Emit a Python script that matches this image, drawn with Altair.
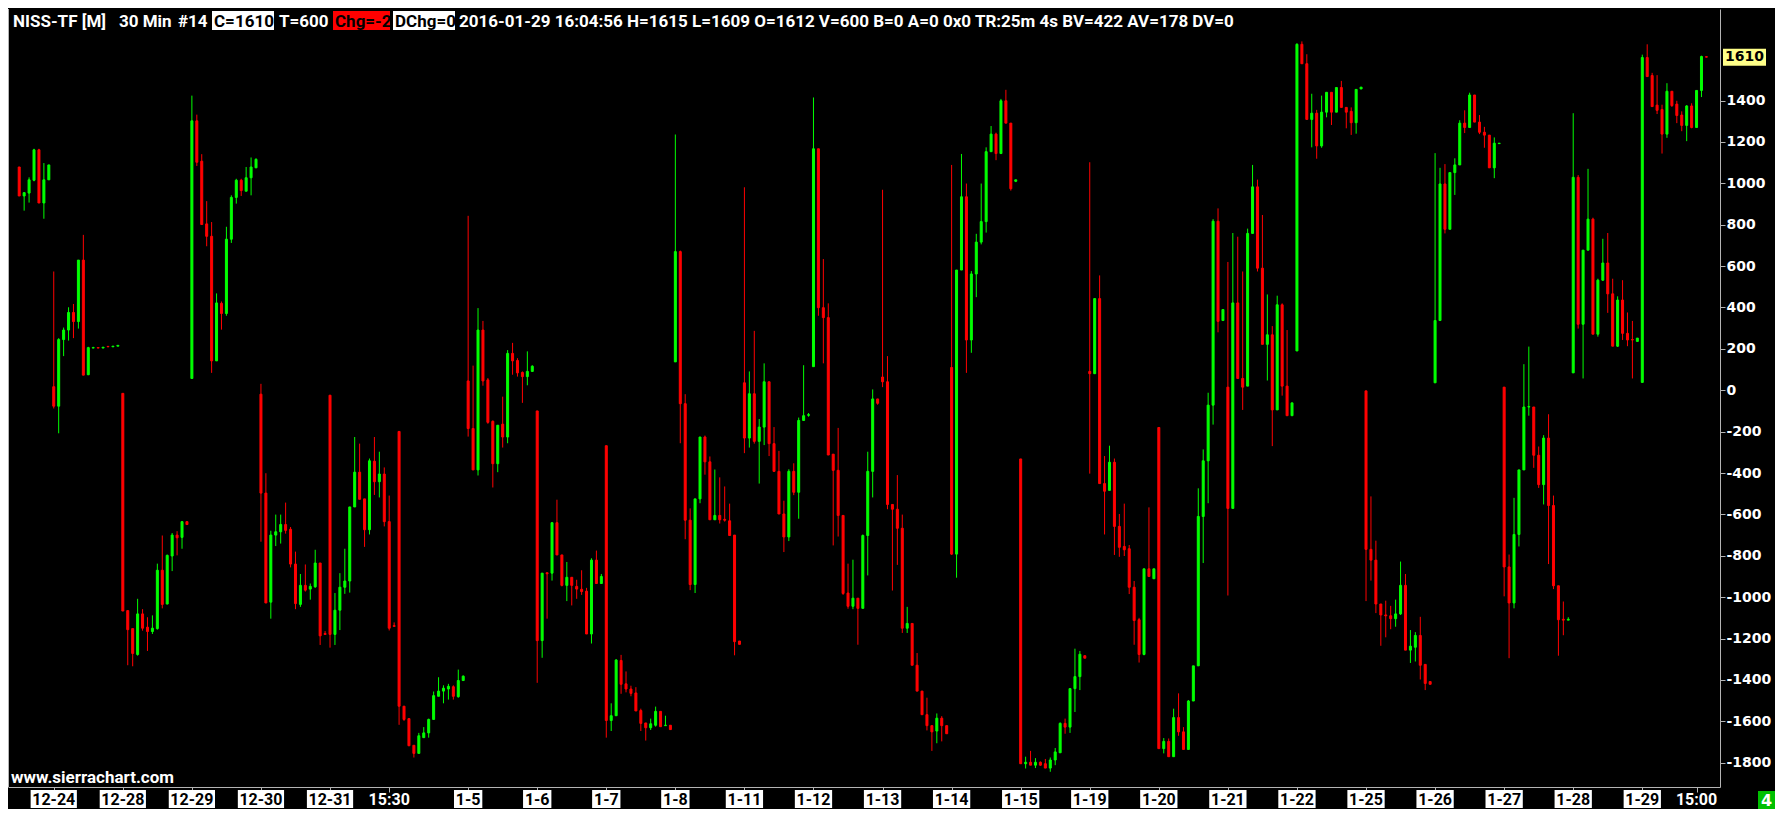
import altair as alt
import pandas as pd

# ---------------- data (30 min bars) ----------------
opens = [1079, 939, 953, 1015, 1162, 905, 1017, 17, -77, 245, 291, 376, 332, 629, 75, 204, 206, 204, 212, 210, 213,
         -15, -1065, -1152, -1277, -1081, -1145, -1166, -1152, -870, -1033, -801, -700, -711, -635,
         57, 1302, 1107, 804, 744, 142, 420, 371, 730, 932, 1015, 962, 1027, 1075,
         -19, -497, -1024, -700, -684, -649, -672, -840, -1035, -943, -961, -950, -835, -1176,
         -24, -1180, -1063, -952, -922, -564, -396, -525, -674, -343, -442, -405, -635, -1138,
         -199, -1527, -1587, -1716, -1755, -1679, -1656, -1591, -1479, -1454, -1444, -1433, -1481, -1403,
         45, -185, -385, 291, 50, -150, -355, -164, -226, 178, 144, 86, 66, 91,
         -100, -1210, -882, -884, -640, -796, -943, -904, -948, -962, -971, -1178, -821, -934,
         -268, -1596, -1573, -1306, -1419, -1444, -1463, -1548, -1608, -1631, -1619, -1552, -1621, -1619,
         137, 670, -65, -628, -939, -525, -226, -346, -626, -605, -624, -631, -700, -1212,
         36, -231, -17, -247, -178, 41, -258, -392, -598, -709, -392, -493, -146, -121,
         114, 1167, 399, 351, -309, -387, -605, -980, -1044, -1005, -1054, -702, -392, -42,
         64, 41, -552, -575, -667, -1150, -1127, -1329, -1454, -1568, -1621, -1647, -1585, -1621,
         110, -792, 581, 935, 243, 562, 716, 815, 1153, 1238, 1144, 1399, 1291, 1010,
         -332, -1805, -1798, -1812, -1798, -1805, -1826, -1787, -1752, -1610, -1628, -1442, -1384, -1283,
         91, 80, 443, -451, -484, -348, -658, -755, -766, -952, -1109, -1277, -863, -911,
         -180, -1732, -1697, -1771, -1582, -1651, -1736, -1502, -1332, -610, -341, -72, 817, 337,
         15, -571, 422, 57, 20, 758, 983, 590, 222, 268, -95, 413, 20, -123,
         190, 1672, 1578, 1309, 1339, 1181, 1344, 1440, 1344, 1463, 1367, 1348, 1293, 1456,
         -3, -769, -821, -1033, -1086, -1090, -1104, -1081, -943, -1256, -1242, -1185, -1325, -1408,
         36, 337, 997, 778, 1052, 1089, 1291, 1270, 1427, 1296, 1247, 1233, 1075, 1192,
         15, -854, -1028, -697, -385, -81, -81, -314, -456, -231, -557, -945, -1107, -1111,
         84, 1029, 319, 677, 827, 271, 532, 615, 466, 213, 436, 275, 245, 236,
         38, 1608, 1521, 1378, 1357, 1238, 1445, 1383, 1330, 1280, 1374, 1270, 1449, 1612]
highs = [1079, 955, 1029, 1167, 1167, 1098, 1089, 574, 252, 303, 401, 417, 629, 751, 210, 210, 206, 208, 212, 213, 217,
         -15, -1065, -1152, -1008, -1058, -1097, -1088, -838, -702, -794, -690, -681, -633, -635,
         1424, 1332, 1141, 914, 813, 468, 429, 790, 942, 1022, 1022, 1079, 1125, 1121,
         31, -401, -679, -601, -601, -543, -661, -780, -888, -842, -934, -771, -835, -1164,
         -24, -980, -884, -766, -564, -226, -258, -525, -330, -226, -297, -373, -509, -1122,
         -199, -1527, -1587, -1716, -1656, -1628, -1587, -1456, -1387, -1426, -1419, -1426, -1350, -1378,
         843, 119, 397, 335, 59, -146, -169, -31, 194, 229, 155, 91, 188, 121,
         -100, -884, -882, -640, -529, -796, -830, -904, -916, -870, -955, -812, -775, -888,
         -268, -1513, -1299, -1279, -1359, -1428, -1435, -1539, -1608, -1587, -1529, -1552, -1573, -1619,
         1236, 675, -19, -571, -525, -226, -219, -320, -383, -421, -465, -548, -700, -1212,
         981, 91, 287, -139, 130, 41, -178, -293, -534, -382, -353, -132, 121, -110,
         1415, 1167, 634, 420, -309, -182, -605, -838, -819, -1005, -697, -297, 4, -42,
         969, 165, -552, -410, -601, -1047, -1127, -1270, -1454, -1486, -1621, -1562, -1575, -1621,
         1089, 581, 1142, 999, 576, 756, 999, 1174, 1277, 1245, 1408, 1452, 1291, 1017,
         -332, -1771, -1743, -1778, -1794, -1782, -1775, -1729, -1605, -1587, -1442, -1249, -1260, -1283,
         1102, 443, 555, -318, -268, -330, -598, -548, -748, -922, -1100, -863, -566, -863,
         -180, -1681, -1683, -1539, -1465, -1628, -1497, -1332, -474, -286, -12, 827, 879, 390,
         620, 760, 742, 574, 781, 1089, 1018, 847, 463, 310, 457, 420, 291, -61,
         1677, 1686, 1624, 1433, 1355, 1424, 1440, 1440, 1463, 1495, 1367, 1367, 1454, 1465,
         -3, -513, -727, -1033, -1017, -1042, -1012, -828, -888, -1159, -1169, -1095, -1325, -1408,
         1146, 1075, 1093, 1052, 1121, 1305, 1353, 1438, 1427, 1330, 1273, 1233, 1222, 1194,
         15, -794, -520, -385, 126, 211, -81, -272, -217, -116, -509, -945, -1021, -1097,
         1339, 1040, 677, 1070, 834, 539, 732, 760, 539, 454, 532, 376, 335, 252,
         1622, 1672, 1534, 1523, 1380, 1484, 1445, 1399, 1348, 1378, 1387, 1449, 1617, 1615]
lows = [939, 868, 907, 1010, 905, 829, 1017, -88, -208, 165, 240, 252, 298, 73, 73, 204, 204, 204, 210, 210, 213,
        -1067, -1329, -1334, -1283, -1162, -1260, -1178, -1157, -1054, -1035, -874, -798, -766, -649,
        57, 1084, 801, 696, 84, 142, 293, 360, 712, 902, 939, 962, 942, 1075,
        -732, -1028, -1104, -753, -741, -693, -856, -1058, -1047, -973, -1012, -955, -1231, -1180,
        -1244, -1231, -1159, -984, -978, -564, -527, -757, -697, -506, -518, -658, -1161, -1141,
        -1617, -1598, -1720, -1775, -1755, -1679, -1679, -1591, -1479, -1513, -1495, -1495, -1486, -1403,
        -224, -385, -412, 22, -162, -470, -396, -277, -256, 75, 66, -61, 24, 91,
        -1414, -1293, -1104, -920, -796, -948, -1019, -1040, -1008, -989, -1178, -1224, -934, -934,
        -1679, -1647, -1573, -1467, -1460, -1479, -1550, -1647, -1693, -1642, -1626, -1626, -1621, -1640,
        137, -256, -720, -966, -980, -546, -408, -626, -626, -644, -635, -702, -1281, -1228,
        -304, -277, -258, -451, -265, -318, -392, -598, -782, -729, -507, -621, -146, -128,
        114, 360, 130, -313, -750, -707, -989, -1056, -1058, -1230, -1054, -895, -518, -70,
        15, -575, -968, -844, -1173, -1173, -1329, -1454, -1568, -1644, -1743, -1706, -1697, -1660,
        -796, -906, 581, 84, 181, 450, 705, 762, 1153, 1112, 1144, 1291, 965, 1006,
        -1805, -1828, -1812, -1826, -1815, -1826, -1844, -1812, -1752, -1660, -1656, -1555, -1449, -1295,
        -403, 80, -451, -697, -484, -796, -805, -801, -985, -1230, -1316, -1281, -900, -911,
        -1732, -1755, -1771, -1771, -1670, -1736, -1736, -1502, -1332, -835, -546, -166, 280, 337,
        -992, -571, 57, -95, 20, 758, 574, 222, 47, -270, -95, -26, -123, -123,
        190, 1578, 1309, 1174, 1119, 1172, 1319, 1282, 1344, 1367, 1266, 1234, 1240, 1456,
        -1019, -920, -1077, -1235, -1194, -1155, -1143, -1086, -1256, -1318, -1311, -1398, -1449, -1421,
        36, 337, 758, 778, 944, 1089, 1243, 1270, 1296, 1238, 1172, 1075, 1025, 1192,
        -996, -1295, -1054, -755, -385, -123, -375, -472, -552, -840, -961, -1283, -1184, -1111,
        84, 298, 57, 677, 271, 259, 528, 374, 213, 209, 243, 213, 57, 236,
        38, 1516, 1371, 1335, 1144, 1220, 1369, 1291, 1252, 1204, 1266, 1270, 1417, 1609]
closes = [939, 955, 1017, 1162, 905, 1017, 1089, -77, 245, 291, 376, 332, 629, 73, 206, 206, 204, 208, 210, 213, 217,
          -1067, -1157, -1272, -1081, -1150, -1166, -1150, -870, -1035, -798, -700, -713, -635, -649,
          1302, 1102, 801, 744, 142, 422, 371, 730, 932, 1015, 965, 1027, 1079, 1116,
          -497, -1028, -700, -684, -649, -677, -840, -1031, -943, -966, -948, -835, -1187, -1180,
          -1180, -1063, -952, -922, -564, -396, -527, -674, -341, -442, -405, -635, -1150, -1141,
          -1527, -1591, -1718, -1755, -1670, -1656, -1591, -1476, -1454, -1440, -1431, -1479, -1403, -1382,
          -185, -385, 291, 45, -155, -355, -169, -226, 178, 142, 84, 66, 91, 116,
          -1210, -884, -887, -640, -796, -943, -904, -943, -961, -973, -1178, -821, -934, -900,
          -1596, -1573, -1304, -1421, -1444, -1465, -1550, -1610, -1631, -1612, -1552, -1626, -1619, -1640,
          670, -65, -628, -939, -525, -226, -346, -626, -605, -626, -628, -702, -1215, -1228,
          -231, -17, -247, -178, 41, -258, -392, -598, -709, -392, -493, -146, -123, -118,
          1167, 399, 351, -313, -387, -605, -982, -1044, -1005, -1054, -702, -392, -42, -63,
          41, -552, -575, -667, -1150, -1127, -1329, -1454, -1568, -1621, -1651, -1585, -1621, -1660,
          -792, 581, 935, 243, 562, 716, 815, 1153, 1238, 1144, 1399, 1291, 974, 1017,
          -1805, -1798, -1812, -1798, -1812, -1826, -1787, -1748, -1610, -1628, -1442, -1384, -1276, -1295,
          80, 443, -451, -488, -348, -658, -759, -771, -952, -1113, -1277, -863, -900, -863,
          -1732, -1697, -1771, -1582, -1651, -1736, -1502, -1332, -610, -341, -72, 817, 333, 390,
          -571, 422, 57, 15, 758, 983, 590, 222, 268, -95, 413, 20, -123, -61,
          1672, 1578, 1309, 1339, 1181, 1344, 1440, 1344, 1463, 1367, 1344, 1293, 1454, 1465,
          -769, -821, -1033, -1086, -1090, -1104, -1081, -943, -1256, -1237, -1185, -1329, -1417, -1421,
          337, 997, 778, 1052, 1089, 1291, 1270, 1427, 1296, 1247, 1233, 1075, 1194, 1194,
          -854, -1028, -697, -385, -81, -79, -314, -456, -231, -557, -945, -1109, -1111, -1107,
          1029, 319, 677, 827, 271, 532, 615, 466, 213, 436, 275, 243, 243, 252,
          1608, 1516, 1371, 1353, 1238, 1445, 1376, 1328, 1280, 1374, 1270, 1449, 1613, 1610]

# date labels of the time axis and the bar where each one sits
date_labels = ["12-24", "12-28", "12-29", "12-30", "12-31", "15:30", "1-5", "1-6", "1-7", "1-8", "1-11", "1-12",
               "1-13", "1-14", "1-15", "1-19", "1-20", "1-21", "1-22", "1-25", "1-26", "1-27", "1-28", "1-29", "15:00"]
date_bars = [7, 21, 35, 49, 63, 75, 91, 105, 119, 133, 147, 161, 175, 189, 203, 217, 231, 245, 259, 273, 287,
             301, 315, 329, 340]
price_ticks = [-1800, -1600, -1400, -1200, -1000, -800, -600, -400, -200, 0, 200, 400, 600, 800, 1000, 1200, 1400]

# ---------------- layout ----------------
W, H = 1712, 778
XDOM = [-1.26, 343.74]
YDOM = [-1917.5, 1842.6]
PX_PER_BAR = W / (XDOM[1] - XDOM[0])
UNITS_PER_PX = (YDOM[1] - YDOM[0]) / H

TXF = "Roboto"
AXF = "DejaVu Sans"
GRAY = "#B4B4B4"
UP, DOWN = "#00FF00", "#FF0000"

n = len(opens)
df = pd.DataFrame({"i": list(range(n)), "O": opens, "H": highs, "L": lows, "C": closes})
df["dir"] = ["up" if c >= o else "down" for o, c in zip(opens, closes)]
df["top"] = [max(o, c) for o, c in zip(opens, closes)]
df["bot"] = [min(o, c) for o, c in zip(opens, closes)]

xs = alt.Scale(domain=XDOM, nice=False, zero=False)
ys = alt.Scale(domain=YDOM, nice=False, zero=False)
cscale = alt.Scale(domain=["up", "down"], range=[UP, DOWN])

XAX = alt.Axis(values=date_bars, labels=False, ticks=True, tickSize=5, tickColor=GRAY,
               domainColor=GRAY, domainWidth=1, grid=False, title=None)
YAX = alt.Axis(orient="right", values=price_ticks, grid=False, tickColor=GRAY, tickSize=5,
               domainColor=GRAY, domainWidth=1, labelColor="white", labelFont=AXF,
               labelFontWeight="bold", labelFontSize=14, labelPadding=1, title=None,
               labelExpr="datum.value < 0 ? '-' + toString(-datum.value) : toString(datum.value)")

wicks = alt.Chart(df).mark_rule(strokeWidth=1).encode(
    x=alt.X("i:Q", scale=xs, axis=XAX, title=None),
    y=alt.Y("L:Q", scale=ys, axis=YAX, title=None),
    y2="H:Q",
    color=alt.Color("dir:N", scale=cscale, legend=None),
)

bodies = alt.Chart(df).mark_bar(size=2, strokeWidth=1).encode(
    x=alt.X("i:Q", scale=xs, axis=XAX, title=None),
    y=alt.Y("bot:Q", scale=ys, axis=YAX, title=None),
    y2="top:Q",
    color=alt.Color("dir:N", scale=cscale, legend=None),
    stroke=alt.Stroke("dir:N", scale=cscale, legend=None),
)

# time axis labels (dates boxed in white)
lab = pd.DataFrame({"label": date_labels, "pos": date_bars})
lab["boxed"] = ["-" in s for s in date_labels]
half = [(9.0 * sum(ch.isdigit() for ch in s) + 4.5 * (len(s) - sum(ch.isdigit() for ch in s)) + 6) / 2 / PX_PER_BAR
        for s in date_labels]
lab["lo"] = [p - h for p, h in zip(date_bars, half)]
lab["hi"] = [p + h for p, h in zip(date_bars, half)]

lab_boxes = alt.Chart(lab).transform_filter("datum.boxed").mark_rect(color="white").encode(
    x=alt.X("lo:Q", scale=xs, axis=XAX, title=None), x2="hi:Q",
    y=alt.value(H + 3), y2=alt.value(H + 21))
lab_text = alt.Chart(lab).mark_text(font=TXF, fontWeight="bold", fontSize=16, baseline="alphabetic",
                                    align="center").encode(
    x=alt.X("pos:Q", scale=xs, axis=XAX, title=None), y=alt.value(H + 18), text="label:N",
    color=alt.condition("datum.boxed", alt.value("black"), alt.value("white")))

one = pd.DataFrame({"k": [0]})


def txt(s, x, y, color="white", size=17, font=TXF, align="left", baseline="alphabetic"):
    return alt.Chart(one).mark_text(font=font, fontWeight="bold", fontSize=size, color=color, align=align,
                                    baseline=baseline).encode(x=alt.value(x), y=alt.value(y), text=alt.value(s))


def box(x1, x2, y1, y2, color):
    return alt.Chart(one).mark_rect(color=color).encode(
        x=alt.value(x1), x2=alt.value(x2), y=alt.value(y1), y2=alt.value(y2))


last = closes[-1]
d = 8.5 * UNITS_PER_PX
last_box = alt.Chart(one).mark_rect(color="#FFFF88").encode(
    x=alt.value(W + 3), x2=alt.value(W + 46),
    y=alt.YDatum(last + d, scale=ys, axis=YAX, title=None), y2=alt.datum(last - d))
last_text = alt.Chart(one).mark_text(font=AXF, fontWeight="bold", fontSize=14, color="black", align="left",
                                     baseline="middle").encode(
    x=alt.value(W + 5), y=alt.YDatum(last, scale=ys, axis=YAX, title=None), text=alt.value(str(last)))

left_line = alt.Chart(one).mark_rule(color=GRAY, strokeWidth=1).encode(
    x=alt.value(0.5), y=alt.value(0), y2=alt.value(H))

header = [
    txt("NISS-TF [M]", 5, 18),
    txt("30 Min", 111, 18),
    txt("#14", 170, 18),
    box(204, 266, 2, 21, "white"), txt("C=1610", 206, 18, color="black"),
    txt("T=600", 271, 18),
    box(325, 382, 2, 21, "#FF0000"), txt("Chg=-2", 327, 18, color="black"),
    box(385, 447, 2, 21, "white"), txt("DChg=0", 387, 18, color="black"),
    txt("2016-01-29 16:04:56 H=1615 L=1609 O=1612 V=600 B=0 A=0 0x0 TR:25m 4s BV=422 AV=178 DV=0", 451, 18),
]

footer = [
    txt("www.sierrachart.com", 3, H - 4, size=17),
    box(W + 38, W + 55, H + 4, H + 22, "#00C000"),
    txt("4", W + 46.5, H + 19, size=16, font=AXF, align="center"),
]

chart = alt.layer(
    left_line, wicks, bodies, lab_boxes, lab_text, last_box, last_text, *header, *footer
).properties(
    width=W, height=H, padding=0, background="black"
).configure_view(stroke="transparent", fill="black")

chart.save("out.html", embed_options={"renderer": "svg", "actions": False})
